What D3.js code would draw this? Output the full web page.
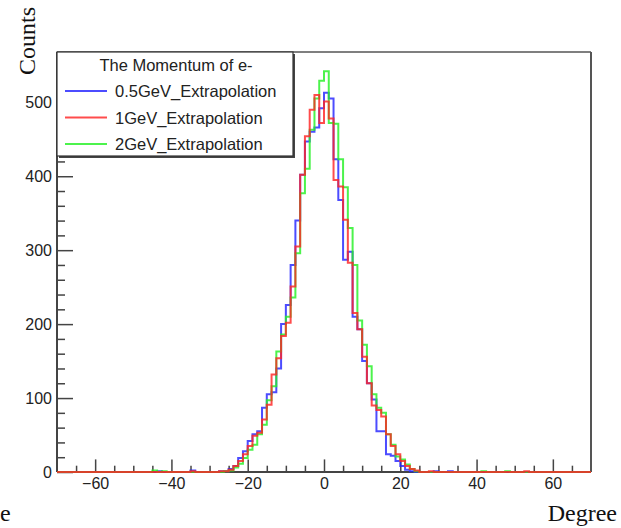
<!DOCTYPE html>
<html>
<head>
<meta charset="utf-8">
<script src="https://cdn.jsdelivr.net/npm/d3@7"></script>
<style>
  body { margin: 0; background: #fff; }
  svg { display: block; }
</style>
</head>
<body>
<svg id="chart" width="621" height="528"></svg>
<script>
// Histogram binning (degrees)
const binWidth = 1.25;
const histRange = [-70, 70];

// Left edges of the populated central bins
const binStarts = [-27.5, -26.25, -25, -23.75, -22.5, -21.25, -20, -18.75, -17.5, -16.25,
  -15, -13.75, -12.5, -11.25, -10, -8.75, -7.5, -6.25, -5, -3.75, -2.5, -1.25, 0, 1.25,
  2.5, 3.75, 5, 6.25, 7.5, 8.75, 10, 11.25, 12.5, 13.75, 15, 16.25, 17.5, 18.75, 20,
  21.25, 22.5, 23.75, 25];

// Counts per bin for each electron momentum
const counts05GeV = [1, 1, 4, 8, 19, 28, 42, 51, 55, 87, 105, 108, 140, 200, 226, 280, 340,
  402, 447, 460, 466, 492, 513, 505, 423, 368, 287, 298, 210, 193, 150, 120, 98, 55, 55,
  24, 22, 15, 8, 3, 1, 0, 0];
const counts1GeV = [1, 1, 3, 8, 15, 24, 35, 49, 53, 71, 91, 132, 154, 184, 202, 251, 305,
  402, 454, 490, 510, 472, 501, 478, 395, 386, 341, 283, 215, 193, 156, 120, 90, 84, 75,
  51, 35, 24, 15, 8, 4, 2, 0];
const counts2GeV = [0, 1, 2, 6, 11, 19, 30, 37, 51, 64, 97, 116, 163, 186, 210, 236, 296,
  377, 410, 463, 505, 529, 542, 472, 471, 423, 385, 330, 280, 205, 172, 143, 105, 87, 80,
  51, 37, 21, 17, 10, 4, 1, 0];

// Isolated entries far out in the tails: [bin left edge, count]
const tail05GeV = [[-43.75, 1], [-35, 2], [28.75, 1], [32.5, 1]];
const tail1GeV = [[-35, 1], [27.5, 1], [52.5, 1]];
const tail2GeV = [[-45, 2], [-42.5, 1], [41.25, 1], [47.5, 1]];

const seriesNames = ["0.5GeV_Extrapolation", "1GeV_Extrapolation", "2GeV_Extrapolation"];
const seriesColors = ["#2424ff", "#ff2424", "#24f024"];
const legendTitle = "The Momentum of e-";

const xMajorTicks = [-60, -40, -20, 0, 20, 40, 60];
const yMajorTicks = [0, 100, 200, 300, 400, 500];
const yMax = 568;

const svg = d3.select("#chart");
const frame = { left: 57, right: 591, top: 52, bottom: 472 };

const x = d3.scaleLinear().domain(histRange).range([frame.left, frame.right]);
const y = d3.scaleLinear().domain([0, yMax]).range([frame.bottom, frame.top]);

const tickFont = "'Liberation Sans', Arial, Helvetica, sans-serif";
const titleFont = "'Liberation Serif', 'Times New Roman', serif";

// Frame
const frameG = svg.append("g").attr("fill", "none");
frameG.append("line").attr("x1", frame.left).attr("x2", frame.right)
  .attr("y1", frame.top).attr("y2", frame.top).attr("stroke", "#555").attr("stroke-width", 1.5);
frameG.append("line").attr("x1", frame.right).attr("x2", frame.right)
  .attr("y1", frame.top).attr("y2", frame.bottom).attr("stroke", "#555").attr("stroke-width", 2);
frameG.append("line").attr("x1", frame.left).attr("x2", frame.left)
  .attr("y1", frame.top).attr("y2", frame.bottom).attr("stroke", "#444").attr("stroke-width", 2);
frameG.append("line").attr("x1", frame.left).attr("x2", frame.right)
  .attr("y1", frame.bottom).attr("y2", frame.bottom).attr("stroke", "#444").attr("stroke-width", 2);

// Y axis: major ticks every 100, minor every 20, drawn inward
const yMinor = d3.range(0, yMax, 20).filter(v => v % 100 !== 0);
const yAxis = svg.append("g").attr("transform", `translate(${frame.left},0)`)
  .call(d3.axisLeft(y).tickValues(yMajorTicks).tickSizeInner(-16).tickSizeOuter(0).tickPadding(5));
svg.append("g").attr("transform", `translate(${frame.left},0)`)
  .call(d3.axisLeft(y).tickValues(yMinor).tickFormat("").tickSizeInner(-8).tickSizeOuter(0))
  .call(g => g.select(".domain").remove())
  .selectAll("line").attr("stroke", "#444").attr("stroke-width", 1.5);
yAxis.select(".domain").remove();
yAxis.selectAll("line").attr("stroke", "#444").attr("stroke-width", 1.5);
yAxis.selectAll("text").attr("font-family", tickFont).attr("font-size", 16).attr("fill", "#222");

// X axis: major ticks every 20, minor every 5, drawn inward
const xMinor = d3.range(-65, 70, 5).filter(v => v % 20 !== 0);
const xAxis = svg.append("g").attr("transform", `translate(0,${frame.bottom})`)
  .call(d3.axisBottom(x).tickValues(xMajorTicks).tickSizeInner(-12.6).tickSizeOuter(0).tickPadding(5.6));
svg.append("g").attr("transform", `translate(0,${frame.bottom})`)
  .call(d3.axisBottom(x).tickValues(xMinor).tickFormat("").tickSizeInner(-6.3).tickSizeOuter(0))
  .call(g => g.select(".domain").remove())
  .selectAll("line").attr("stroke", "#444").attr("stroke-width", 1.5);
xAxis.select(".domain").remove();
xAxis.selectAll("line").attr("stroke", "#444").attr("stroke-width", 1.5);
xAxis.selectAll("text").attr("font-family", tickFont).attr("font-size", 16).attr("fill", "#222");

// Full-range histogram contents built from the central bins and the tail entries
const nBins = Math.round((histRange[1] - histRange[0]) / binWidth);
function fullCounts(core, tail) {
  const c = new Array(nBins).fill(0);
  binStarts.forEach((e, i) => { c[Math.round((e - histRange[0]) / binWidth)] = core[i]; });
  tail.forEach(([e, v]) => { c[Math.round((e - histRange[0]) / binWidth)] = v; });
  return c;
}
const series = [
  { name: seriesNames[0], color: seriesColors[0], counts: fullCounts(counts05GeV, tail05GeV) },
  { name: seriesNames[1], color: seriesColors[1], counts: fullCounts(counts1GeV, tail1GeV) },
  { name: seriesNames[2], color: seriesColors[2], counts: fullCounts(counts2GeV, tail2GeV) }
];

svg.append("clipPath").attr("id", "plotClip").append("rect")
  .attr("x", frame.left).attr("y", frame.top - 2)
  .attr("width", frame.right - frame.left).attr("height", frame.bottom - frame.top + 4);

const line = d3.line().x(d => x(d[0])).y(d => y(d[1])).curve(d3.curveStepAfter);
const histG = svg.append("g").attr("clip-path", "url(#plotClip)");
// draw order: 0.5GeV, 2GeV, then 1GeV on top
[series[0], series[2], series[1]].forEach(s => {
  const pts = s.counts.map((v, i) => [histRange[0] + i * binWidth, v]);
  pts.push([histRange[1], s.counts[nBins - 1]]);
  histG.append("path").datum(pts)
    .attr("d", line).attr("fill", "none")
    .attr("stroke", s.color).attr("stroke-width", 2).attr("stroke-opacity", 0.82);
});

// Legend
const lg = { x: 57, y: 52, w: 236, h: 104 };
svg.append("rect").attr("x", lg.x + 2).attr("y", lg.y + 2).attr("width", lg.w).attr("height", lg.h)
  .attr("fill", "#444");
svg.append("rect").attr("x", lg.x).attr("y", lg.y).attr("width", lg.w).attr("height", lg.h)
  .attr("fill", "#fff").attr("stroke", "#333").attr("stroke-width", 1.2);
svg.append("text").attr("x", 176).attr("y", 70.5).attr("text-anchor", "middle")
  .attr("font-family", tickFont).attr("font-size", 16.5).attr("fill", "#222").text(legendTitle);
const rowY = [91, 117.5, 144];
series.forEach((s, i) => {
  svg.append("line").attr("x1", 65).attr("x2", 107).attr("y1", rowY[i]).attr("y2", rowY[i])
    .attr("stroke", s.color).attr("stroke-width", 2).attr("stroke-opacity", 0.82);
  svg.append("text").attr("x", 115).attr("y", rowY[i] + 6)
    .attr("font-family", tickFont).attr("font-size", 16.5).attr("fill", "#222").text(s.name);
});

// Axis titles
svg.append("text").attr("transform", "translate(35,75) rotate(-90)")
  .attr("font-family", titleFont).attr("font-size", 24).attr("fill", "#111").text("Counts");
svg.append("text").attr("x", 617).attr("y", 521).attr("text-anchor", "end")
  .attr("font-family", titleFont).attr("font-size", 24).attr("fill", "#111").text("Degree");
svg.append("text").attr("x", 0).attr("y", 521)
  .attr("font-family", titleFont).attr("font-size", 24).attr("fill", "#111").text("e");
</script>
</body>
</html>
